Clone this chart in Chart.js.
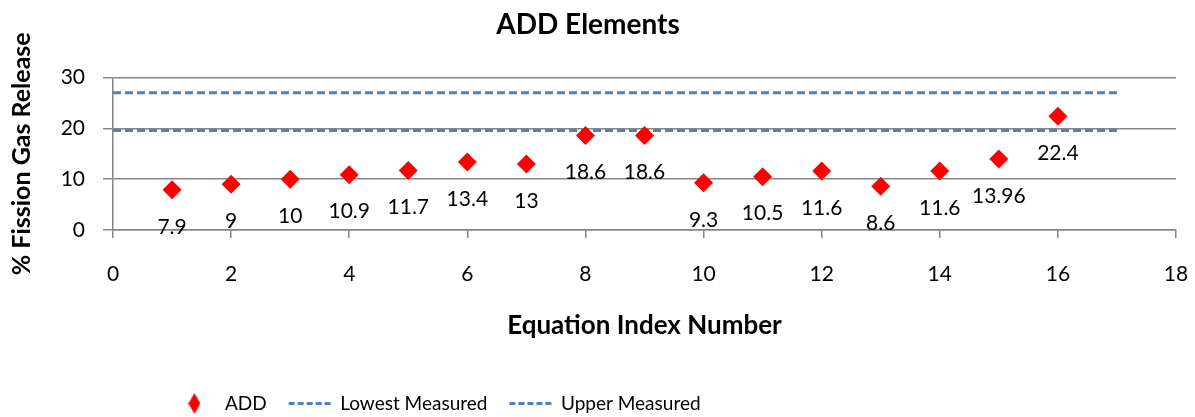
<!DOCTYPE html>
<html>
<head>
<meta charset="utf-8">
<script src="https://cdn.jsdelivr.net/npm/chart.js@4/dist/chart.umd.min.js"></script>
<style>
  html, body { margin: 0; padding: 0; background: #fff; }
  #wrap { width: 1195px; height: 417px; }
</style>
</head>
<body>
<div id="wrap"><canvas id="myChart" width="1195" height="417"></canvas></div>
<script>
// chart data
var eqIndex = [1, 2, 3, 4, 5, 6, 7, 8, 9, 10, 11, 12, 13, 14, 15, 16];
var addValues = [7.9, 9, 10, 10.9, 11.7, 13.4, 13, 18.6, 18.6, 9.3, 10.5, 11.6, 8.6, 11.6, 13.96, 22.4];
var lowestX = [0, 17];
var lowestY = [19.6, 19.6];
var upperX = [0, 17];
var upperY = [27, 27];

var FONT = "Lato, 'Open Sans', sans-serif";
var blue = "#4F81BD";

function pairs(xs, ys){
	return xs.map(function(x, i){ return {x: x, y: ys[i]}; });
}

// narrow diamond for the legend
var legendDiamond = document.createElement("canvas");
legendDiamond.width = 12;
legendDiamond.height = 21;
(function(){
	var c = legendDiamond.getContext("2d");
	c.fillStyle = "red";
	c.beginPath();
	c.moveTo(6, 0); c.lineTo(12, 10.5); c.lineTo(6, 21); c.lineTo(0, 10.5);
	c.closePath();
	c.fill();
})();

// value labels under the ADD points
var pointLabels = {
	id: "pointLabels",
	afterDatasetsDraw: function(chart){
		var meta = chart.getDatasetMeta(0);
		var ctx = chart.ctx;
		ctx.save();
		ctx.font = "21px " + FONT;
		ctx.fillStyle = "#000";
		ctx.textAlign = "center";
		ctx.textBaseline = "middle";
		meta.data.forEach(function(pt, i){
			ctx.fillText(String(addValues[i]), pt.x, pt.y + 37);
		});
		ctx.restore();
	}
};

// legend sits left of centre in the original
var legendShift = {
	id: "legendShift",
	afterLayout: function(chart){
		var lg = chart.legend;
		var d = 437 - (lg.left + lg.right) / 2;
		lg.left += d; lg.right += d;
		lg.top += 13; lg.bottom += 13;
	}
};

new Chart(document.getElementById("myChart"), {
	type: "scatter",
	data: {
		datasets: [{
			label: "ADD",
			data: pairs(eqIndex, addValues),
			pointStyle: "rectRot",
			pointRadius: 9.5,
			pointHoverRadius: 9.5,
			backgroundColor: "#FF0000",
			borderColor: "#FF0000",
			borderWidth: 0,
			showLine: false
		}, {
			label: "Lowest Measured",
			type: "line",
			data: pairs(lowestX, lowestY),
			borderColor: blue,
			borderWidth: 3,
			borderDash: [8, 4],
			pointRadius: 0,
			fill: false
		}, {
			label: "Upper Measured",
			type: "line",
			data: pairs(upperX, upperY),
			borderColor: blue,
			borderWidth: 3,
			borderDash: [8, 4],
			pointRadius: 0,
			fill: false
		}]
	},
	plugins: [pointLabels, legendShift],
	options: {
		responsive: false,
		animation: false,
		layout: { padding: { left: 0, right: 19, top: 0, bottom: 7 } },
		plugins: {
			title: {
				display: true,
				text: "ADD Elements",
				color: "#000",
				font: { family: FONT, size: 28, weight: "bold" },
				padding: { top: 8, bottom: 36 }
			},
			legend: {
				position: "bottom",
				labels: {
					color: "#000",
					font: { family: FONT, size: 19 },
					usePointStyle: true,
					pointStyleWidth: 42,
					padding: 22,
					generateLabels: function(chart){
						return chart.data.datasets.map(function(ds, i){
							return {
								text: ds.label,
								datasetIndex: i,
								fillStyle: i == 0 ? "#FF0000" : blue,
								strokeStyle: i == 0 ? "#FF0000" : blue,
								lineWidth: i == 0 ? 0 : 3,
								lineDash: i == 0 ? [] : [6, 3],
								pointStyle: i == 0 ? legendDiamond : "line",
								fontColor: "#000",
								hidden: false
							};
						});
					}
				}
			},
			tooltip: { enabled: false }
		},
		scales: {
			x: {
				type: "linear",
				min: 0, max: 18,
				ticks: { stepSize: 2, color: "#000", font: { family: FONT, size: 21 }, padding: 24 },
				grid: { drawOnChartArea: false, drawTicks: true, tickLength: 8, color: "#868686", lineWidth: 1.5 },
				border: { color: "#868686", width: 1.5 },
				title: {
					display: true,
					text: "Equation Index Number",
					color: "#000",
					font: { family: FONT, size: 26, weight: "bold" },
					padding: { top: 0, bottom: 18 }
				},
				afterFit: function(scale){
					scale.height = 129;
					scale.paddingRight = 0;
				}
			},
			y: {
				min: 0, max: 30,
				ticks: { stepSize: 10, color: "#000", font: { family: FONT, size: 21 }, padding: 18 },
				grid: { color: "#868686", lineWidth: 1.5, tickLength: 10 },
				border: { color: "#868686", width: 1.5 },
				title: {
					display: true,
					text: "% Fission Gas Release",
					color: "#000",
					font: { family: FONT, size: 25, weight: "bold" },
					padding: { top: 7, bottom: 0 }
				},
				afterFit: function(scale){ scale.width = 113; }
			}
		}
	}
});
</script>
</body>
</html>
